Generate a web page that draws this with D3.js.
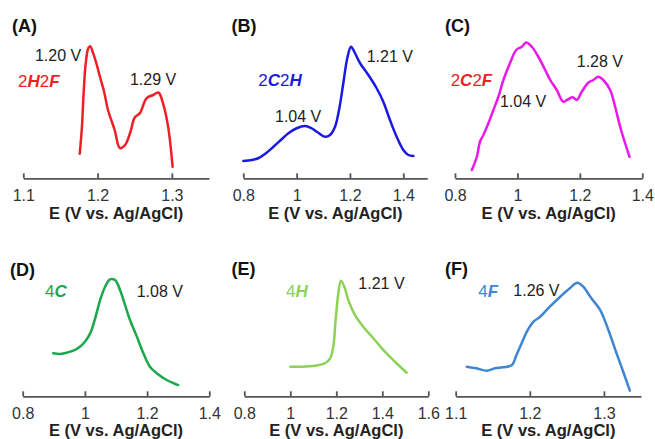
<!DOCTYPE html>
<html><head><meta charset="utf-8">
<script src="https://cdn.jsdelivr.net/npm/d3@7"></script>
<style>
body{margin:0;background:#fff;}
svg{display:block;font-family:"Liberation Sans",Arial,sans-serif;}
</style></head><body>
<svg id="chart" width="655" height="439"></svg>
<script>
// ---------- data ----------
const aE = [1.176,1.179,1.181,1.184,1.1875,1.190,1.194,1.199,1.203,1.209,1.214,1.223,1.230,1.237,1.244,1.250,1.257,1.266,1.275,1.282,1.288,1.295,1.301];
const aI = [0.13,0.35,0.59,0.85,0.975,0.99,0.935,0.84,0.75,0.62,0.48,0.32,0.175,0.2,0.30,0.42,0.455,0.575,0.60,0.62,0.535,0.345,0.025];
const aTicks = [1.1,1.2,1.3];

const bE = [0.80,0.832,0.856,0.881,0.913,0.944,0.969,1.0,1.031,1.056,1.081,1.106,1.125,1.144,1.159,1.175,1.191,1.204,1.219,1.238,1.269,1.30,1.325,1.35,1.375,1.40,1.419,1.438];
const bI = [0.072,0.08,0.094,0.128,0.186,0.246,0.294,0.334,0.352,0.334,0.298,0.266,0.28,0.346,0.48,0.694,0.906,0.986,0.934,0.854,0.76,0.654,0.546,0.40,0.266,0.16,0.12,0.112];
const bTicks = [0.8,1,1.2,1.4];

const cE = [0.854,0.870,0.880,0.891,0.907,0.923,0.939,0.955,0.976,0.996,1.014,1.028,1.046,1.067,1.089,1.105,1.126,1.147,1.163,1.177,1.19,1.206,1.227,1.243,1.259,1.275,1.297,1.313,1.329,1.345,1.359];
const cI = [0,0.106,0.226,0.28,0.374,0.48,0.586,0.72,0.854,0.96,0.986,1.02,0.986,0.906,0.80,0.72,0.64,0.546,0.566,0.582,0.56,0.626,0.698,0.72,0.746,0.72,0.64,0.506,0.346,0.214,0.106];
const cTicks = [0.8,1,1.2,1.4];

const dE = [0.898,0.92,0.941,0.963,0.984,1.0,1.017,1.033,1.049,1.065,1.081,1.097,1.113,1.129,1.145,1.167,1.188,1.209,1.231,1.263,1.30];
const dI = [0.334,0.327,0.339,0.357,0.394,0.439,0.515,0.652,0.818,0.939,1.006,1.0,0.909,0.773,0.636,0.485,0.334,0.212,0.152,0.091,0.045];
const dTicks = [0.8,1,1.2,1.4];

const eE = [1.0,1.05,1.107,1.151,1.173,1.187,1.197,1.209,1.220,1.235,1.252,1.281,1.317,1.361,1.404,1.455,1.506];
const eI = [0.212,0.212,0.221,0.243,0.288,0.394,0.636,0.879,0.994,0.939,0.818,0.682,0.575,0.47,0.364,0.257,0.157];
const eTicks = [0.8,1,1.2,1.4,1.6];

const fE = [1.115,1.128,1.142,1.153,1.164,1.176,1.182,1.189,1.196,1.205,1.214,1.227,1.241,1.254,1.264,1.272,1.283,1.295,1.306,1.317,1.326,1.335];
const fI = [0.212,0.197,0.175,0.197,0.206,0.227,0.318,0.425,0.53,0.621,0.666,0.757,0.848,0.925,0.975,0.939,0.834,0.727,0.545,0.334,0.166,-0.006];
const fTicks = [1.1,1.2,1.3];

const sampleNames = ["2H2F","2C2H","2C2F","4C","4H","4F"];
const panelLetters = ["(A)","(B)","(C)","(D)","(E)","(F)"];
const axisTitle = "E (V vs. Ag/AgCl)";

// peak annotations [text, E, intensity]
const aNotes = [["1.20 V",1.1157,0.874],["1.29 V",1.2436,0.682]];
const bNotes = [["1.21 V",1.2627,0.861],["1.04 V",0.9189,0.386]];
const cNotes = [["1.28 V",1.190,0.826],["1.04 V",0.944,0.501]];
const dNotes = [["1.08 V",1.1666,0.848]];
const eNotes = [["1.21 V",1.2957,0.918]];
const fNotes = [["1.26 V",1.1777,0.857]];
// sample label anchors [E, intensity]
const nameAnchors = [[1.0929,0.661],[0.8562,0.674],[0.786,0.674],[0.8717,0.842],[0.9813,0.848],[1.1305,0.848]];

// ---------- layout / style ----------
const rowTop = {yr:[170,45], axisY:178.3, titleY:219};
const rowBot = {yr:[390,280], axisY:396.3, titleY:436};
const panels = [
  {E:aE,I:aI,ticks:aTicks,notes:aNotes,dom:[1.1,1.35],xr:[23.3,209],row:rowTop,color:"#ee1f25",lab:"#ee1f25",letter:[12,32]},
  {E:bE,I:bI,ticks:bTicks,notes:bNotes,dom:[0.8,1.49],xr:[243.3,427.3],row:rowTop,color:"#1a1ae0",lab:"#1a1ae0",letter:[231.5,32]},
  {E:cE,I:cI,ticks:cTicks,notes:cNotes,dom:[0.8,1.4],xr:[455,642.3],row:rowTop,color:"#ea18ea",lab:"#ee1f25",letter:[445,32]},
  {E:dE,I:dI,ticks:dTicks,notes:dNotes,dom:[0.8,1.4],xr:[22.7,209.3],row:rowBot,color:"#1aa84c",lab:"#1aa84c",letter:[10,275.5]},
  {E:eE,I:eI,ticks:eTicks,notes:eNotes,dom:[0.8,1.6],xr:[244.3,428.3],row:rowBot,color:"#8dd257",lab:"#8dd257",letter:[231.5,275]},
  {E:fE,I:fI,ticks:fTicks,notes:fNotes,dom:[1.1,1.35],xr:[455.7,641],row:rowBot,color:"#3f86d2",lab:"#3f86d2",letter:[445,275]}
];

const svg = d3.select("#chart");
const fmt = d3.format("~g");

panels.forEach((p,i)=>{
  const x = d3.scaleLinear().domain(p.dom).range(p.xr);
  const y = d3.scaleLinear().domain([0,1]).range(p.row.yr);
  const g = svg.append("g");

  // axis
  const ax = g.append("g").attr("transform",`translate(0,${p.row.axisY})`)
    .call(d3.axisBottom(x).tickValues(p.ticks).tickFormat(fmt).tickSize(-5).tickSizeOuter(0).tickPadding(11));
  ax.select(".domain").attr("stroke","#555").attr("stroke-width",1.8);
  ax.selectAll(".tick line").attr("stroke","#555").attr("stroke-width",1.8);
  ax.selectAll(".tick text").attr("font-size",16).attr("fill","#333")
    .attr("font-family","'Liberation Sans',Arial,sans-serif");

  // axis title
  g.append("text").attr("x",(p.xr[0]+p.xr[1])/2).attr("y",p.row.titleY)
    .attr("text-anchor","middle").attr("font-weight","bold").attr("font-size",16.5)
    .attr("fill","#222").text(axisTitle);

  // curve
  const pts = p.E.map((e,k)=>[e,p.I[k]]);
  g.append("path").datum(pts)
    .attr("fill","none").attr("stroke",p.color).attr("stroke-width",2.5)
    .attr("stroke-linejoin","round").attr("stroke-linecap","round")
    .attr("d",d3.line().x(d=>x(d[0])).y(d=>y(d[1])).curve(d3.curveCatmullRom.alpha(0.5)));

  // panel letter
  g.append("text").attr("x",p.letter[0]).attr("y",p.letter[1])
    .attr("font-size",18).attr("font-weight","bold").attr("fill","#111").text(panelLetters[i]);

  // sample name
  const na = nameAnchors[i];
  const t = g.append("text").attr("x",x(na[0])).attr("y",y(na[1]))
    .attr("font-size",17).attr("fill",p.lab);
  for (const ch of sampleNames[i]) {
    const isL = /[A-Z]/.test(ch);
    t.append("tspan").text(ch)
      .attr("font-weight",isL?"bold":"normal")
      .attr("font-style",isL?"italic":"normal");
  }

  // peak notes
  p.notes.forEach(n=>{
    g.append("text").attr("x",x(n[1])).attr("y",y(n[2]))
      .attr("font-size",16).attr("fill","#222").text(n[0]);
  });
});
</script>
</body></html>
